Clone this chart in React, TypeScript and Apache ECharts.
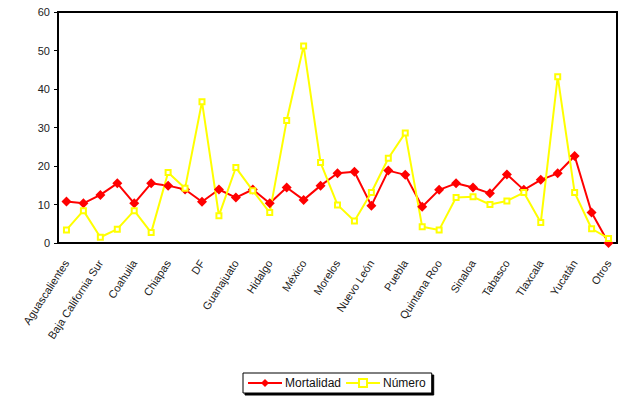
import React, { useEffect, useRef } from "react";
import * as echarts from "echarts";

const estados = [
  "Aguascalientes", "Baja California", "Baja California Sur", "Campeche", "Coahuila",
  "Colima", "Chiapas", "Chihuahua", "DF", "Durango", "Guanajuato", "Guerrero",
  "Hidalgo", "Jalisco", "México", "Michoacán", "Morelos", "Nayarit", "Nuevo León",
  "Oaxaca", "Puebla", "Querétaro", "Quintana Roo", "San Luis Potosí", "Sinaloa",
  "Sonora", "Tabasco", "Tamaulipas", "Tlaxcala", "Veracruz", "Yucatán", "Zacatecas", "Otros",
];

const mortalidad = [
  10.8, 10.3, 12.5, 15.5, 10.3, 15.5, 14.9, 13.9, 10.7, 13.9, 11.8, 13.9,
  10.3, 14.4, 11.2, 14.9, 18.1, 18.5, 9.7, 18.8, 17.7, 9.4, 13.8, 15.5, 14.4,
  12.9, 17.8, 13.8, 16.4, 18.1, 22.6, 7.9, 0,
];

const numero = [
  3.4, 8.4, 1.5, 3.6, 8.4, 2.7, 18.3, 14.2, 36.7, 7.1, 19.6, 13.6,
  7.9, 31.8, 51.2, 20.9, 9.9, 5.7, 13.1, 22.0, 28.6, 4.2, 3.4, 11.8, 12.0,
  10.0, 10.9, 13.1, 5.3, 43.2, 13.1, 3.7, 1.2,
];

const FONT = "'Liberation Sans', Arial, sans-serif";

export default function App() {
  const ref = useRef<HTMLDivElement>(null);

  useEffect(() => {
    if (!ref.current) return;
    const chart = echarts.init(ref.current, null, { renderer: "svg" });
    chart.setOption({
      animation: false,
      backgroundColor: "#fff",
      textStyle: { fontFamily: FONT },
      grid: {
        left: 58,
        top: 12,
        right: 2,
        bottom: 157,
        show: true,
        borderColor: "#000",
        borderWidth: 2,
      },
      legend: {
        left: 243,
        top: 373,
        itemWidth: 34,
        itemHeight: 10,
        itemGap: 4,
        padding: [4, 6, 4, 4],
        borderColor: "#000",
        borderWidth: 1,
        backgroundColor: "#fff",
        shadowColor: "#000",
        shadowBlur: 0,
        shadowOffsetX: 2,
        shadowOffsetY: 2,
        textStyle: { fontFamily: FONT, fontSize: 12, color: "#111", padding: [0, 0, 0, -2] },
        data: ["Mortalidad", "Número"],
      },
      xAxis: {
        type: "category",
        data: estados,
        boundaryGap: true,
        axisLine: { show: true, lineStyle: { color: "#000", width: 2 } },
        axisTick: { show: false },
        axisLabel: {
          interval: 1,
          rotate: 57,
          margin: 18,
          fontFamily: FONT,
          fontSize: 11,
          color: "#222",
        },
      },
      yAxis: {
        type: "value",
        min: 0,
        max: 60,
        interval: 10,
        splitLine: { show: false },
        axisLine: { show: true, lineStyle: { color: "#000", width: 2 } },
        axisTick: { show: true, length: 4, lineStyle: { color: "#000", width: 1 } },
        axisLabel: { fontFamily: FONT, fontSize: 11, color: "#222", margin: 8 },
      },
      series: [
        {
          name: "Mortalidad",
          type: "line",
          data: mortalidad,
          symbol: "diamond",
          symbolSize: 10,
          lineStyle: { color: "#ff0000", width: 2 },
          itemStyle: { color: "#ff0000" },
        },
        {
          name: "Número",
          type: "line",
          data: numero,
          symbol: "rect",
          symbolSize: 5,
          lineStyle: { color: "#ffff00", width: 2 },
          itemStyle: { color: "#ffffff", borderColor: "#ffff00", borderWidth: 2 },
        },
      ],
    });
    return () => chart.dispose();
  }, []);

  return (
    <div
      ref={ref}
      style={{ position: "fixed", left: 0, top: 0, width: 619, height: 400 }}
    />
  );
}
